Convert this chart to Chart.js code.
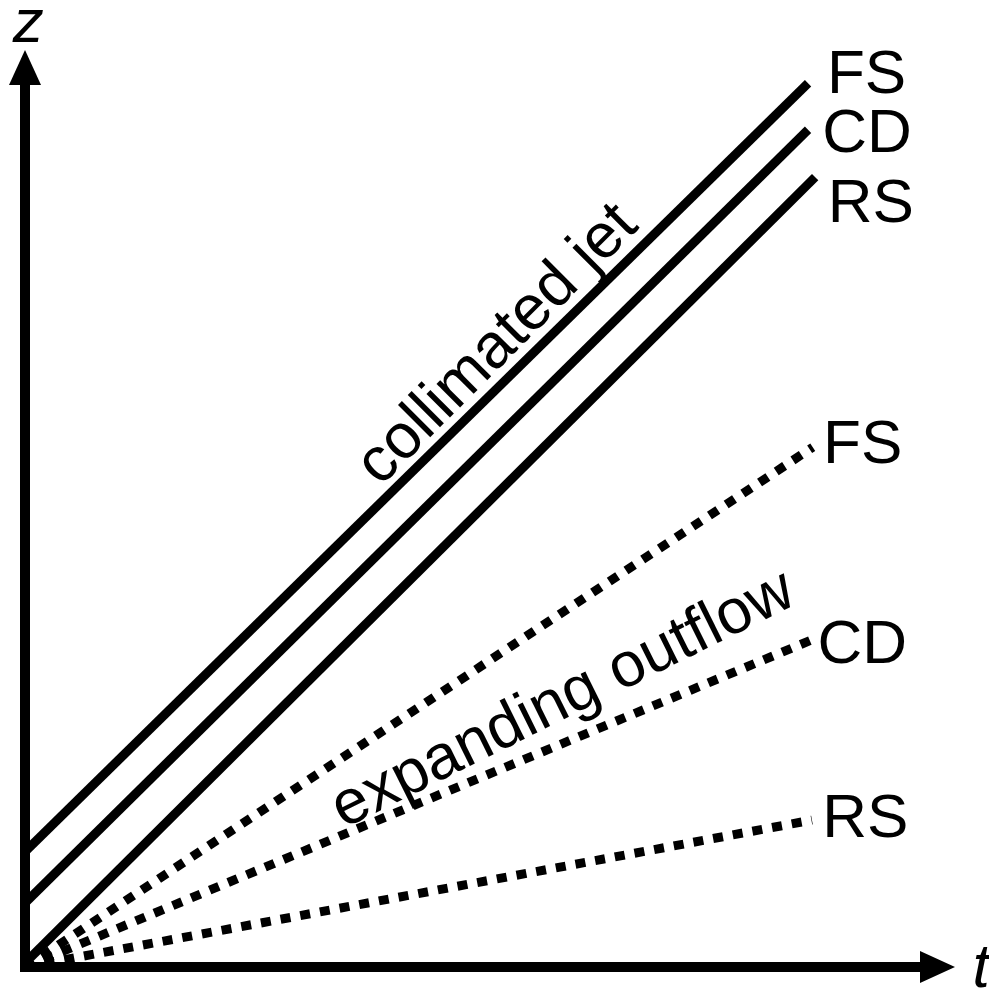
<!DOCTYPE html>
<html>
<head>
<meta charset="utf-8">
<script src="https://cdn.jsdelivr.net/npm/chart.js@4"></script>
<style>
html, body { margin: 0; padding: 0; background: #fff; }
#wrap { width: 989px; height: 989px; }
</style>
</head>
<body>
<div id="wrap"><canvas id="chart" width="989" height="989"></canvas></div>
<script>
// t horizontal, z vertical, arbitrary units
const tMax = 11.77, zMax = 11.61;

// solid: collimated jet
const jetNames = ['FS', 'CD', 'RS'];
const jetT = [[0, 9.91], [0, 9.91], [0, 10.0]];
const jetZ = [[1.46, 11.19], [0.81, 10.6], [0.05, 10.0]];
const jetLabelT = [10.15, 10.09, 10.16];
const jetLabelZ = [11.06, 10.32, 9.43];

// dotted: expanding outflow
const outNames = ['FS', 'CD', 'RS'];
const outT = [[0, 9.97], [0, 10.0], [0, 9.96]];
const outZ = [[0, 6.58], [0, 4.16], [0, 1.86]];
const outLabelT = [10.10, 10.03, 10.09];
const outLabelZ = [6.38, 3.85, 1.65];

// rotated captions
const captions = ['collimated jet', 'expanding outflow'];
const captionT = [6.14, 6.91];
const captionZ = [7.72, 3.18];
const captionAngle = [-45, -26.4];

const axisNames = ['t', 'z'];

function toPoints(ts, zs) {
  return ts.map((t, i) => ({ x: t, y: zs[i] }));
}

const datasets = [];
jetNames.forEach((n, i) => {
  datasets.push({
    label: 'jet ' + n,
    data: toPoints(jetT[i], jetZ[i]),
    showLine: true, borderColor: '#000', borderWidth: 9,
    pointRadius: 0, clip: false
  });
});
outNames.forEach((n, i) => {
  datasets.push({
    label: 'outflow ' + n,
    data: toPoints(outT[i], outZ[i]),
    showLine: true, borderColor: '#000', borderWidth: 9,
    borderDash: [10, 10], pointRadius: 0, clip: false
  });
});

const sketchPlugin = {
  id: 'sketch',
  afterDatasetsDraw(chart) {
    const ctx = chart.ctx;
    const xs = chart.scales.x, ys = chart.scales.y;
    const area = chart.chartArea;
    const x0 = xs.getPixelForValue(0), y0 = ys.getPixelForValue(0);
    ctx.save();
    ctx.fillStyle = '#000';
    ctx.strokeStyle = '#000';
    ctx.lineWidth = 10;
    ctx.lineCap = 'butt';
    // axes
    ctx.beginPath();
    ctx.moveTo(x0, y0 + 5);
    ctx.lineTo(x0, area.top + 30);
    ctx.moveTo(x0 - 5, y0);
    ctx.lineTo(area.right - 30, y0);
    ctx.stroke();
    // arrow heads
    ctx.beginPath();
    ctx.moveTo(x0, area.top);
    ctx.lineTo(x0 - 16, area.top + 35);
    ctx.lineTo(x0 + 16, area.top + 35);
    ctx.closePath();
    ctx.fill();
    ctx.beginPath();
    ctx.moveTo(area.right, y0);
    ctx.lineTo(area.right - 35, y0 - 16);
    ctx.lineTo(area.right - 35, y0 + 16);
    ctx.closePath();
    ctx.fill();

    // axis names
    ctx.font = 'italic 62px "Liberation Sans", Arial, sans-serif';
    ctx.textBaseline = 'alphabetic';
    ctx.textAlign = 'left';
    ctx.fillText(axisNames[0], xs.getPixelForValue(11.99), ys.getPixelForValue(-0.25));
    ctx.textAlign = 'center';
    ctx.fillText(axisNames[1], xs.getPixelForValue(0.04), ys.getPixelForValue(11.71));

    // line labels
    ctx.font = '62px "Liberation Sans", Arial, sans-serif';
    ctx.textAlign = 'left';
    jetNames.forEach((n, i) => {
      ctx.fillText(n, xs.getPixelForValue(jetLabelT[i]), ys.getPixelForValue(jetLabelZ[i]));
    });
    outNames.forEach((n, i) => {
      ctx.fillText(n, xs.getPixelForValue(outLabelT[i]), ys.getPixelForValue(outLabelZ[i]));
    });

    // captions
    ctx.font = '63px "Liberation Sans", Arial, sans-serif';
    ctx.textAlign = 'center';
    captions.forEach((c, i) => {
      ctx.save();
      ctx.translate(xs.getPixelForValue(captionT[i]), ys.getPixelForValue(captionZ[i]));
      ctx.rotate(captionAngle[i] * Math.PI / 180);
      ctx.fillText(c, 0, 0);
      ctx.restore();
    });
    ctx.restore();
  }
};

new Chart(document.getElementById('chart'), {
  type: 'scatter',
  data: { datasets },
  options: {
    responsive: false,
    animation: false,
    devicePixelRatio: 1,
    events: [],
    layout: { padding: { left: 25, right: 34, top: 50, bottom: 22 } },
    plugins: { legend: { display: false }, tooltip: { enabled: false } },
    scales: {
      x: { type: 'linear', min: 0, max: tMax, display: false },
      y: { type: 'linear', min: 0, max: zMax, display: false }
    }
  },
  plugins: [sketchPlugin]
});
</script>
</body>
</html>
